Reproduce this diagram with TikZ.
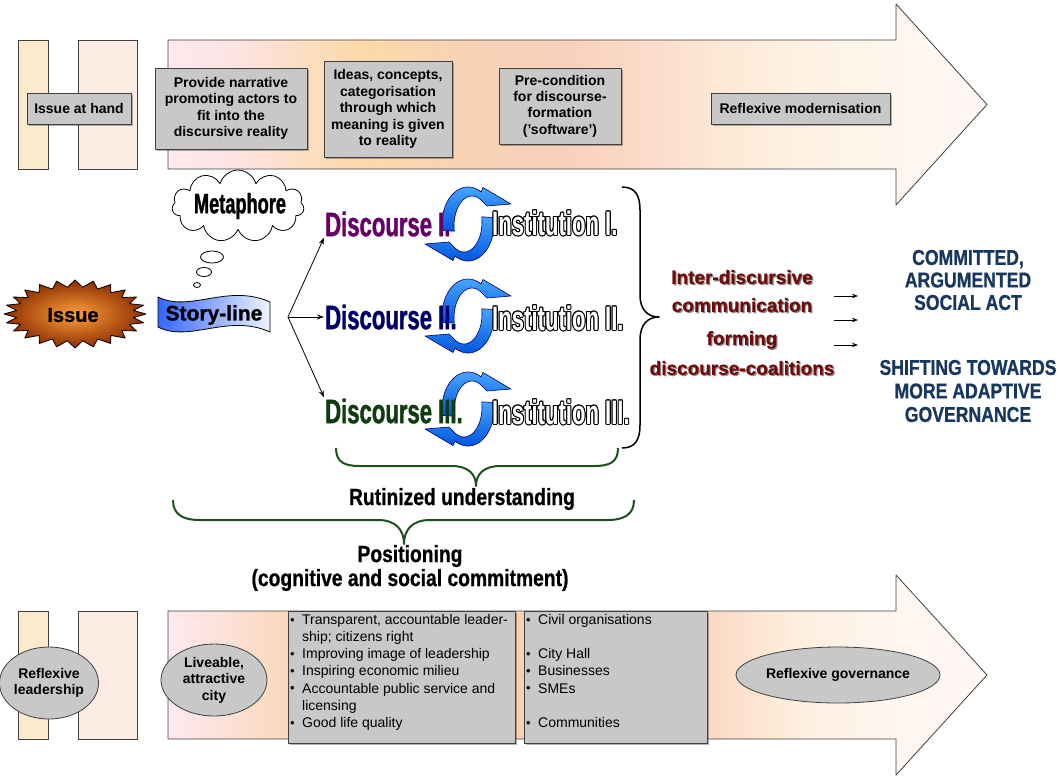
\documentclass[tikz,border=0pt]{standalone}
\usepackage{fontspec}
\setmainfont{Liberation Sans}
\newfontfamily\condfont[FakeStretch=0.65]{Liberation Sans}
\newfontfamily\heavycond[FakeStretch=0.65,FakeBold=1.2]{Liberation Sans}
\newfontfamily\narrowheavy[FakeStretch=0.82,FakeBold=0.8]{Liberation Sans}
\newfontfamily\semiheavy[FakeBold=0.6]{Liberation Sans}
\newfontfamily\blackfont[FakeBold=1.2]{Liberation Sans}
\usetikzlibrary{shapes.geometric,shapes.symbols,arrows.meta,shadows}

\definecolor{boxgray}{RGB}{200,200,200}
\definecolor{boxline}{RGB}{64,64,64}
\definecolor{barA}{RGB}{251,234,203}
\definecolor{barB}{RGB}{253,236,227}
% upper band
\definecolor{gA}{RGB}{253,233,238}
\definecolor{gB}{RGB}{252,228,228}
\definecolor{gC}{RGB}{252,217,168}
\definecolor{gD}{RGB}{250,211,180}
\definecolor{gE}{RGB}{249,208,187}
\definecolor{gF}{RGB}{251,218,200}
\definecolor{gG}{RGB}{253,232,214}
\definecolor{gH}{RGB}{254,242,226}
\definecolor{gI}{RGB}{254,246,238}
\definecolor{gJ}{RGB}{255,248,246}
% lower band
\definecolor{hA}{RGB}{253,233,238}
\definecolor{hB}{RGB}{251,216,188}
\definecolor{hC}{RGB}{250,208,180}
\definecolor{hD}{RGB}{251,216,196}
\definecolor{hE}{RGB}{254,240,224}
\definecolor{hF}{RGB}{254,246,240}
\definecolor{hG}{RGB}{255,248,246}
\definecolor{burstin}{RGB}{255,160,60}
\definecolor{burstout}{RGB}{140,45,0}
\definecolor{storyblue}{RGB}{51,102,255}
\definecolor{storymid}{RGB}{215,225,255}
\definecolor{storylight}{RGB}{240,244,255}
\definecolor{cycA}{RGB}{70,165,255}
\definecolor{cycB}{RGB}{0,85,225}
\definecolor{cycline}{RGB}{0,0,110}
\definecolor{discI}{RGB}{102,0,102}
\definecolor{discII}{RGB}{0,0,102}
\definecolor{discIII}{RGB}{16,60,16}
\definecolor{coalred}{RGB}{110,12,12}
\definecolor{actnavy}{RGB}{23,55,94}
\definecolor{bracegreen}{RGB}{30,80,30}

\tikzset{
  arrowline/.style={draw=boxline, line width=0.8pt},
  graybox/.style={draw=boxline, fill=boxgray, line width=0.8pt, inner sep=0pt,
    drop shadow={shadow xshift=1.5pt, shadow yshift=-1.5pt, fill=black, opacity=0.3}},
  boxtext/.style={font=\bfseries\fontsize{14}{16.4}\selectfont, align=center},
  listtext/.style={font=\fontsize{14}{17.2}\selectfont, align=left, anchor=north west, inner sep=0pt},
  grayell/.style={ellipse, draw=boxline, fill=boxgray, line width=0.8pt, inner sep=0pt,
    font=\bfseries\fontsize{14}{16.5}\selectfont, align=center},
  disc/.style={font=\heavycond\bfseries\fontsize{34}{34}\selectfont, inner sep=1pt, anchor=west},
  inst/.style={font=\condfont\bfseries\fontsize{34}{34}\selectfont, inner sep=1pt, anchor=west},
  link/.style={-{Stealth[length=7pt,width=5pt]}, line width=0.8pt},
  shortlink/.style={-{Stealth[length=6pt,width=4.5pt]}, line width=0.8pt},
  cyclefill/.style={draw=cycline, line width=0.6pt, top color=cycA, bottom color=cycB},
  blackbrace/.style={draw=black, line width=1.5pt},
  greenbrace/.style={draw=bracegreen, line width=2pt},
  redtext/.style={font=\semiheavy\bfseries\fontsize{19}{28}\selectfont, align=center, text=coalred},
  navytext/.style={font=\narrowheavy\bfseries\fontsize{21.5}{22.5}\selectfont, align=center, text=actnavy},
  bigtext/.style={font=\narrowheavy\bfseries\fontsize{23.5}{24}\selectfont, align=center}
}

% one horizontal colour step of a band
\newcommand\gradseg[4]{\shade[left color=#1, right color=#2] (#3,0) rectangle ({#4+0.6},780);}
% the two crescent arrows of a discourse/institution cycle, centred at #1
\newcommand\cyclepair[1]{%
  \begin{scope}[shift={(#1)}]
    \path[cyclefill] plot[domain=170:300, samples=30] ({26*cos(\x)},{37*sin(\x)})
      -- (15,-36.5) -- (43,-20) -- (19,-18)
      -- plot[domain=300:170, samples=30] ({4+18*cos(\x)},{2+30*sin(\x)}) -- cycle;
    \path[cyclefill] plot[domain=170:300, samples=30] ({-26*cos(\x)},{-37*sin(\x)})
      -- (-15,36.5) -- (-43,20) -- (-19,18)
      -- plot[domain=300:170, samples=30] ({-4-18*cos(\x)},{-2-30*sin(\x)}) -- cycle;
  \end{scope}}
% white lettering with a black outline
\newcommand\outlinedlabel[3]{%
  \foreach \a in {0,30,...,330}{\node[inst, text=black, shift={(\a:1)}] at (#2) {#3};}
  \node[inst, text=white] (#1) at (#2) {#3};}
\newcommand\bulitem{\makebox[12pt][l]{\raisebox{0.3pt}{\fontsize{13}{13}\selectfont\textbullet}}}
\newcommand\bulgap{\hspace*{12pt}}

\begin{document}
\begin{tikzpicture}[x=1pt, y=-1pt, line join=round]
\useasboundingbox (0,0) rectangle (1059,780);

% ---------- upper band ----------
\begin{scope}
  \clip (168,40) -- (896,40) -- (896,4) -- (987,104.5) -- (896,205) -- (896,169) -- (168,169) -- cycle;
  \gradseg{gA}{gB}{168}{230}
  \gradseg{gB}{gC}{230}{360}
  \gradseg{gC}{gD}{360}{450}
  \gradseg{gD}{gE}{450}{560}
  \gradseg{gE}{gF}{560}{640}
  \gradseg{gF}{gG}{640}{720}
  \gradseg{gG}{gH}{720}{800}
  \gradseg{gH}{gI}{800}{900}
  \gradseg{gI}{gJ}{900}{990}
\end{scope}
\draw[arrowline] (168,40) -- (896,40) -- (896,4) -- (987,104.5) -- (896,205) -- (896,169) -- (168,169) -- cycle;
\draw[arrowline, fill=barA] (18,40) rectangle (48,169);
\draw[arrowline, fill=barB] (78,40) rectangle (137,169);

\node[graybox, boxtext, minimum width=104pt, minimum height=31pt] (hand) at (79,108.5) {Issue at hand};
\node[graybox, boxtext, minimum width=152pt, minimum height=81pt] (narr) at (231,108.5)
  {Provide narrative\\promoting actors to\\fit into the\\discursive reality};
\node[graybox, boxtext, minimum width=128pt, minimum height=96pt] (ideas) at (388,109)
  {Ideas, concepts,\\categorisation\\through which\\meaning is given\\to reality};
\node[graybox, boxtext, minimum width=122pt, minimum height=76pt] (pre) at (560,106)
  {Pre-condition\\for discourse-\\formation\\(’software’)};
\node[graybox, boxtext, minimum width=179pt, minimum height=31pt] (modern) at (800.5,108.5) {Reflexive modernisation};

% ---------- lower band ----------
\begin{scope}
  \clip (168,611) -- (896,611) -- (896,575) -- (987,675) -- (896,775) -- (896,739) -- (168,739) -- cycle;
  \gradseg{hA}{hB}{168}{285}
  \gradseg{hB}{hC}{285}{520}
  \gradseg{hC}{hD}{520}{706}
  \gradseg{hD}{hE}{706}{800}
  \gradseg{hE}{hF}{800}{900}
  \gradseg{hF}{hG}{900}{990}
\end{scope}
\draw[arrowline] (168,611) -- (896,611) -- (896,575) -- (987,675) -- (896,775) -- (896,739) -- (168,739) -- cycle;
\draw[arrowline, fill=barA] (18,611) rectangle (48,739);
\draw[arrowline, fill=barB] (78,611) rectangle (137,739);

\node[graybox, minimum width=227pt, minimum height=132pt] (acts) at (401.5,677) {};
\node[graybox, minimum width=183pt, minimum height=132pt] (actors) at (615.5,677) {};
\node[listtext] (actslist) at (290,614)
  {\bulitem Transparent, accountable leader-\\
   \bulgap ship; citizens right\\
   \bulitem Improving image of leadership\\
   \bulitem Inspiring economic milieu\\
   \bulitem Accountable public service and\\
   \bulgap licensing\\
   \bulitem Good life quality};
\node[listtext] (actorslist) at (526,614)
  {\bulitem Civil organisations\\
   \strut\\
   \bulitem City Hall\\
   \bulitem Businesses\\
   \bulitem SMEs\\
   \strut\\
   \bulitem Communities};

\node[grayell, minimum width=92pt, minimum height=72pt] (lead) at (49,683) {Reflexive\\leadership};
\node[grayell, minimum width=106pt, minimum height=72pt] (city) at (214,680) {Liveable,\\attractive\\city};
\node[grayell, minimum width=204pt, minimum height=56pt] (gov) at (838,675) {Reflexive governance};

% ---------- issue, story-line, metaphor ----------
\path[draw=black, line width=0.8pt, inner color=burstin, outer color=burstout, shift={(75,314)}]
  (0:71 and 34) \foreach \i in {0,...,23} { -- (\i*15+7.5:59 and 27) -- (\i*15+15:71 and 34) } -- cycle;
\node[font=\blackfont\bfseries\fontsize{20}{20}\selectfont] (issue) at (73,315) {Issue};

\path[draw=black, line width=0.8pt, left color=storyblue, middle color=storymid, right color=storylight]
  (158,297) .. controls (190,313) and (228,283) .. (270,302) -- (270,332)
  .. controls (228,313) and (190,343) .. (158,327) -- cycle;
\node[font=\blackfont\bfseries\fontsize{21}{21}\selectfont] (story) at (214,315) {Story-line};

\node[cloud, cloud puffs=11, aspect=1.8, draw=black, fill=white, line width=0.8pt,
  minimum width=132pt, minimum height=72pt, inner sep=0pt] (cloudn) at (238,206) {};
\node[font=\heavycond\bfseries\fontsize{28}{28}\selectfont] (meta) at (240,206) {Metaphore};
\draw[line width=0.8pt, fill=white] (212,257) ellipse (11.5 and 6);
\draw[line width=0.8pt, fill=white] (204,272) ellipse (7.5 and 4.5);
\draw[line width=0.8pt, fill=white] (197,285) ellipse (3.5 and 2.5);

% ---------- discourses and institutions ----------
\cyclepair{468,224}
\cyclepair{468,316}
\cyclepair{468,409}

\node[disc, text=discI] (d1) at (324,224) {Discourse I.};
\node[disc, text=discII] (d2) at (324,317) {Discourse II.};
\node[disc, text=discIII] (d3) at (324,411) {Discourse III.};
\outlinedlabel{i1}{491,223}{Institution I.}
\outlinedlabel{i2}{491,318}{Institution II.}
\outlinedlabel{i3}{491,412}{Institution III.}

\coordinate (fork) at (288,317);
\draw[link] (fork) -- (d1.south west);
\draw[link] (fork) -- (d2.west);
\draw[link] (fork) -- (d3.north west);

% ---------- right-hand brace and outcomes ----------
\draw[blackbrace] (622,187) .. controls (635,187) and (640,195) .. (640,210) -- (640,295)
  .. controls (640,310) and (648,317) .. (659,317) .. controls (648,317) and (640,324) .. (640,340)
  -- (640,425) .. controls (640,440) and (635,448) .. (622,448);

\node[redtext, text=black!45, shift={(1.2,1.2)}] at (742,291) {Inter-discursive\\communication};
\node[redtext] (inter) at (742,291) {Inter-discursive\\communication};
\node[redtext, text=black!45, shift={(1.2,1.2)}, font=\semiheavy\bfseries\fontsize{19}{30}\selectfont] at (742,353) {forming\\discourse-coalitions};
\node[redtext, font=\semiheavy\bfseries\fontsize{19}{30}\selectfont] (coal) at (742,353) {forming\\discourse-coalitions};

\coordinate (sa1) at (834,296); \coordinate (ea1) at (858,296);
\coordinate (sa2) at (834,320); \coordinate (ea2) at (858,320);
\coordinate (sa3) at (834,345); \coordinate (ea3) at (858,345);
\draw[shortlink] (sa1) -- (ea1);
\draw[shortlink] (sa2) -- (ea2);
\draw[shortlink] (sa3) -- (ea3);

\node[navytext] (social) at (968,280) {COMMITTED,\\ARGUMENTED\\SOCIAL ACT};
\node[navytext, font=\narrowheavy\bfseries\fontsize{21.5}{23.5}\selectfont] (adapt) at (968,391)
  {SHIFTING TOWARDS\\MORE ADAPTIVE\\GOVERNANCE};

% ---------- lower braces ----------
\draw[greenbrace] (336,448) .. controls (336,462) and (344,466) .. (360,466) -- (452,466)
  .. controls (468,466) and (476,474) .. (476,486) .. controls (476,474) and (484,466) .. (500,466)
  -- (594,466) .. controls (610,466) and (618,462) .. (618,448);
\node[bigtext] (rutin) at (462,499) {Rutinized understanding};

\draw[greenbrace] (173,500) .. controls (173,514) and (182,520) .. (200,520) -- (378,520)
  .. controls (396,520) and (404,530) .. (404,544) .. controls (404,530) and (412,520) .. (430,520)
  -- (607,520) .. controls (625,520) and (634,514) .. (634,500);
\node[bigtext] (posit) at (410,568) {Positioning\\(cognitive and social commitment)};

\end{tikzpicture}
\end{document}
